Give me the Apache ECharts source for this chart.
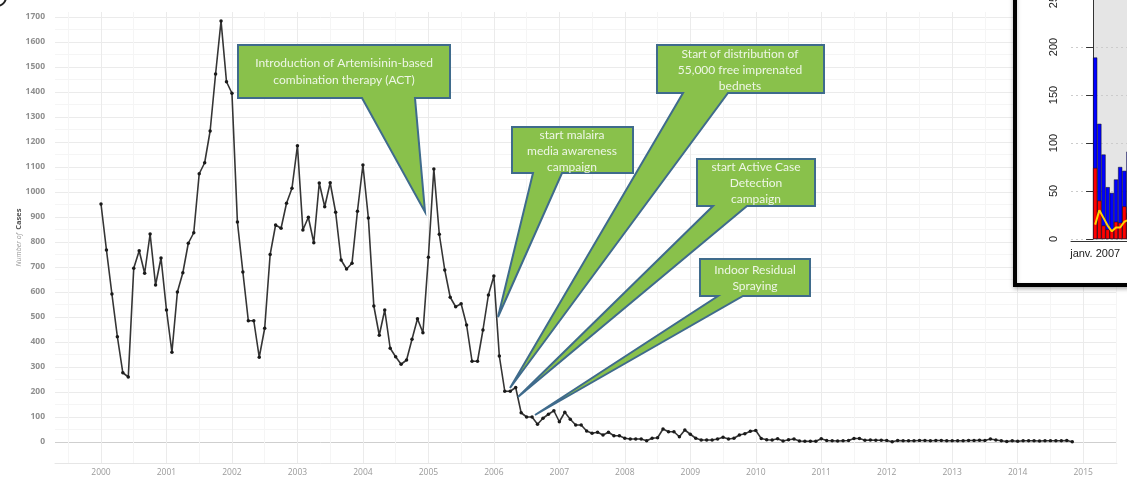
<!DOCTYPE html>
<html><head><meta charset="utf-8">
<script src="https://cdn.jsdelivr.net/npm/echarts@6/dist/echarts.min.js"></script>
<style>html,body{margin:0;padding:0;background:#fff}#c{width:1127px;height:483px}</style>
</head><body><div id="c"></div>
<script>
// ---- monthly malaria cases (Jan 2000 .. Nov 2014) ----
const cases2000 = [952, 768, 592, 421, 277, 260, 695, 765, 675, 832, 628, 736];
const cases2001 = [528, 359, 600, 677, 795, 837, 1073, 1117, 1244, 1472, 1684, 1441];
const cases2002 = [1395, 880, 680, 485, 485, 339, 455, 750, 868, 855, 955, 1015];
const cases2003 = [1185, 848, 899, 797, 1036, 941, 1037, 919, 728, 692, 715, 923];
const cases2004 = [1108, 896, 544, 427, 528, 375, 341, 311, 328, 411, 493, 437];
const cases2005 = [739, 1092, 831, 688, 579, 541, 553, 468, 323, 323, 448, 588];
const cases2006 = [664, 344, 203, 203, 218, 117, 100, 100, 71, 95, 111, 125];
const cases2007 = [81, 119, 91, 68, 68, 44, 35, 39, 28, 39, 25, 25];
const cases2008 = [15, 12, 12, 12, 5, 15, 17, 52, 41, 41, 21, 48];
const cases2009 = [31, 15, 8, 8, 8, 12, 19, 12, 15, 28, 33, 43];
const cases2010 = [46, 14, 9, 8, 13, 4, 9, 12, 4, 3, 3, 3];
const cases2011 = [13, 6, 5, 4, 5, 6, 14, 14, 7, 8, 7, 7];
const cases2012 = [6, 1, 6, 5, 5, 5, 6, 6, 5, 6, 6, 5];
const cases2013 = [5, 5, 5, 6, 6, 7, 6, 12, 8, 5, 2, 5];
const cases2014 = [3, 5, 5, 5, 4, 5, 5, 5, 5, 6, 1];

const yearLabels = [2000, 2001, 2002, 2003, 2004, 2005, 2006, 2007, 2008, 2009, 2010, 2011, 2012, 2013, 2014, 2015];
const yTickValues = [0, 100, 200, 300, 400, 500, 600, 700, 800, 900, 1000, 1100, 1200, 1300, 1400, 1500, 1600, 1700];

// ---- callout texts ----
const calloutACT = ['Introduction of Artemisinin-based', 'combination therapy (ACT)'];
const calloutMedia = ['start malaira', 'media awareness', 'campaign'];
const calloutNets = ['Start of distribution of', '55,000 free imprenated', 'bednets'];
const calloutACD = ['start Active Case', 'Detection', 'campaign'];
const calloutIRS = ['Indoor Residual', 'Spraying'];

// ---- inset chart (partly visible) ----
const insetMonthLabels = ['janv. 2007'];
const insetBlue = [189, 120, 88, 54, 48, 62, 75, 71, 91];
const insetRed = [74, 40, 14, 10, 10, 18, 17, 34, 27];
const insetYellow = [15, 30, 22, 14, 8, 12, 12, 18, 20];
const insetYTicks = [0, 50, 100, 150, 200, 250];

// ---- build ----
const allCases = [].concat(cases2000, cases2001, cases2002, cases2003, cases2004, cases2005, cases2006,
  cases2007, cases2008, cases2009, cases2010, cases2011, cases2012, cases2013, cases2014);
const lineData = allCases.map((v, i) => [i, v]);
const yearTickMonths = yearLabels.map(y => (y - 2000) * 12);
const xGridTicks = [-6];
yearLabels.forEach(y => { xGridTicks.push((y - 2000) * 12); xGridTicks.push((y - 2000) * 12 + 6); });
const xGridColors = xGridTicks.map((t, i) => (i % 2 === 0 ? '#f5f5f5' : '#ebebeb'));
const yGridTicks = [];
for (let i = 0; i < yTickValues.length; i++) {
  yGridTicks.push(yTickValues[i]);
  if (i < yTickValues.length - 1) yGridTicks.push((yTickValues[i] + yTickValues[i + 1]) / 2);
}
const yGridColors = yGridTicks.map((t, i) => (i === 0 ? '#cfcfcf' : (i % 2 === 1 ? '#f5f5f5' : '#ebebeb')));

const GREEN = '#89c14b', EDGE = '#3f6b8c', TXT = '#eef6e6';
function callout(points, lines, cx, y0, lh) {
  const els = [{
    type: 'polygon', z: 20,
    shape: { points: points },
    style: { fill: GREEN, stroke: EDGE, lineWidth: 2, lineJoin: 'miter' }
  }];
  lines.forEach((t, i) => els.push({
    type: 'text', z: 21, x: cx, y: y0 + i * lh,
    style: { text: t, fill: TXT, font: '12px Lato', align: 'center', verticalAlign: 'middle' }
  }));
  return els;
}

const graphics = [].concat(
  callout([[238,45],[450,45],[450,98],[415,98],[425,212],[362,98],[238,98]], calloutACT, 344, 63, 17),
  callout([[512,127],[633,127],[633,173],[562,173],[498,317],[533,173],[512,173]], calloutMedia, 572, 135, 16),
  callout([[657,45],[824,45],[824,93],[728,93],[510,388],[683,93],[657,93]], calloutNets, 740, 54, 16),
  callout([[697,159],[815,159],[815,206],[747,206],[518,397],[713,206],[697,206]], calloutACD, 756, 167, 16),
  callout([[700,259],[810,259],[810,296],[743,296],[535,415],[718,296],[700,296]], calloutIRS, 755, 270, 16.5),
  [
    { type: 'rect', z: 5, shape: { x: 1015, y: -20, width: 220, height: 305 },
      style: { fill: '#ffffff', stroke: '#000', lineWidth: 4, shadowBlur: 4, shadowColor: 'rgba(0,0,0,0.25)', shadowOffsetY: 2 } },
    { type: 'rect', z: 6, shape: { x: 1093, y: -10, width: 40, height: 249 }, style: { fill: '#e5e5e5' } },
    { type: 'arc', z: 30, shape: { cx: -3, cy: -3, r: 9, startAngle: 0, endAngle: Math.PI / 2 },
      style: { stroke: '#222', lineWidth: 2, fill: null } }
  ]
);

const chart = echarts.init(document.getElementById('c'), null, { renderer: 'canvas' });
chart.setOption({
  animation: false,
  backgroundColor: '#ffffff',
  grid: [
    { left: 55, right: 10, top: 12, bottom: 20, containLabel: false, outerBoundsMode: 'none' },
    { left: 1071, top: -1, width: 125, height: 240, containLabel: false, outerBoundsMode: 'none' }
  ],
  xAxis: [
    {
      type: 'value', gridIndex: 0, min: -8.43, max: 186.2, z: 0,
      axisLine: { show: true, onZero: false, lineStyle: { color: '#e6e6e6' } },
      axisTick: { show: false, customValues: xGridTicks },
      axisLabel: { customValues: yearTickMonths, formatter: v => String(2000 + Math.round(v / 12)),
        color: '#9a9a9a', fontSize: 8.5, fontFamily: 'Open Sans', margin: 5 },
      splitLine: { show: true, lineStyle: { color: xGridColors, width: 1 } }
    },
    {
      type: 'value', gridIndex: 1, min: -5.3, max: 24.7, z: 10, position: 'bottom', offset: 2,
      axisLine: { show: true, onZero: false, lineStyle: { color: '#333', width: 1 } },
      axisTick: { show: false, customValues: [0.5] },
      axisLabel: { customValues: [0.5], formatter: () => insetMonthLabels[0],
        color: '#222', fontSize: 11, fontFamily: 'Liberation Sans', margin: 7 },
      splitLine: { show: false }
    }
  ],
  yAxis: [
    {
      type: 'value', gridIndex: 0, min: -84, max: 1720, z: 0,
      axisLine: { show: false },
      axisTick: { show: false, customValues: yGridTicks },
      axisLabel: { customValues: yTickValues, formatter: v => String(v), color: '#8f8f8f', fontSize: 8.5, fontWeight: 'bold',
        fontFamily: 'Open Sans', margin: 10 },
      splitLine: { show: true, lineStyle: { color: yGridColors, width: 1 } },
      name: '{a|Number of} {b|Cases}', nameLocation: 'middle', nameGap: 30, nameMoveOverlap: false,
      nameTextStyle: { rich: {
        a: { fontSize: 7, color: '#9a9a9a', fontStyle: 'italic', fontFamily: 'Open Sans' },
        b: { fontSize: 7.5, color: '#555', fontWeight: 'bold', fontFamily: 'Open Sans' }
      } }
    },
    {
      type: 'value', gridIndex: 1, min: 0, max: 250, interval: 50, z: 10,
      axisLine: { show: true, lineStyle: { color: '#333', width: 1 } },
      axisTick: { show: true, length: 7, lineStyle: { color: '#333' } },
      axisLabel: { rotate: 90, color: '#222', fontSize: 11, fontFamily: 'Liberation Sans', margin: 12,
        customValues: insetYTicks },
      splitLine: { show: true, lineStyle: { color: '#cccccc', type: [2, 3], width: 1 } }
    }
  ],
  series: [
    {
      type: 'line', xAxisIndex: 0, yAxisIndex: 0, data: lineData, z: 2,
      symbol: 'circle', symbolSize: 3.5, showSymbol: true,
      lineStyle: { color: '#353535', width: 1.6 },
      itemStyle: { color: '#1a1a1a' }
    },
    {
      type: 'bar', xAxisIndex: 1, yAxisIndex: 1, z: 12, barWidth: 4.17, barGap: '-100%',
      data: insetBlue.map((v, i) => [i + 0.5, v]),
      itemStyle: { color: '#0000ff', borderColor: '#111', borderWidth: 0.5 }
    },
    {
      type: 'bar', xAxisIndex: 1, yAxisIndex: 1, z: 13, barWidth: 4.17, barGap: '-100%',
      data: insetRed.map((v, i) => [i + 0.5, v]),
      itemStyle: { color: '#ff0000', borderColor: '#111', borderWidth: 0.5 }
    },
    {
      type: 'line', xAxisIndex: 1, yAxisIndex: 1, z: 14, symbol: 'none',
      data: insetYellow.map((v, i) => [i + 0.5, v]),
      lineStyle: { color: '#ffd400', width: 2 }
    }
  ],
  graphic: graphics
});
</script>
</body></html>
